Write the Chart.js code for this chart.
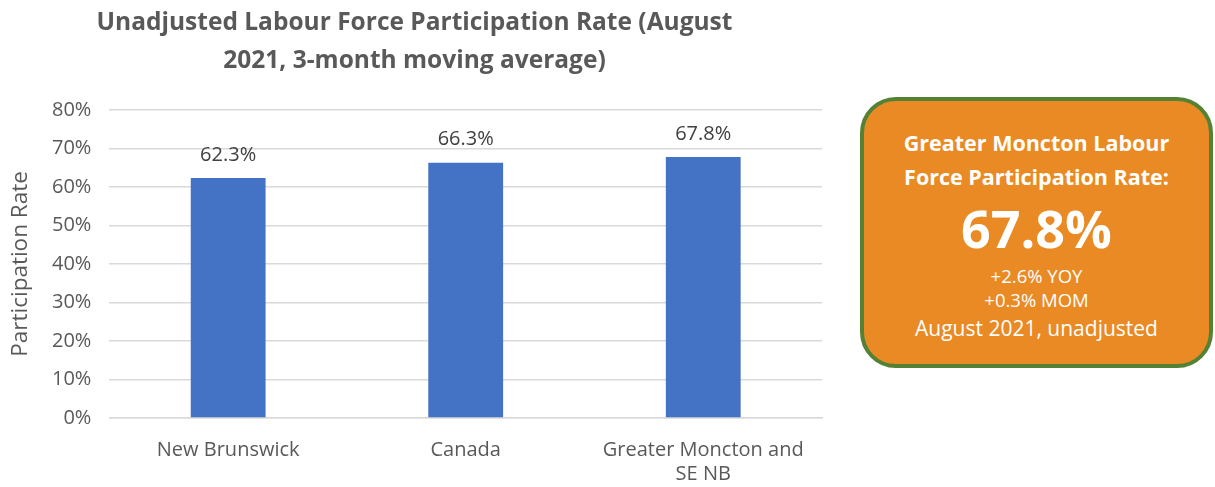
<!DOCTYPE html>
<html>
<head>
<meta charset="utf-8">
<script src="https://cdn.jsdelivr.net/npm/chart.js@4"></script>
<style>
    body { margin: 0; background: #fff; }
    #wrap { position: absolute; left: 0; top: 0; width: 840px; height: 487px; }
    #box {
        position: absolute; left: 860px; top: 97px; width: 345px; height: 263px;
        background: #E98A24; border: 4px solid #548235; border-radius: 36px;
        color: #fff; text-align: center; font-family: 'Open Sans', sans-serif;
    }
    #box .head { margin-top: 25px; font-size: 21.5px; font-weight: bold; line-height: 34px; }
    #box .big { font-size: 52px; font-weight: bold; line-height: 64px; margin-top: 2px; }
    #box .small { font-size: 18.5px; line-height: 24px; margin-top: 4px; }
    #box .last { font-size: 21px; line-height: 28px; margin-top: 2px; }
</style>
</head>
<body>
<div id="wrap"><canvas id="chart"></canvas></div>
<div id="box">
    <div class="head">Greater Moncton Labour<br>Force Participation Rate:</div>
    <div class="big">67.8%</div>
    <div class="small">+2.6% YOY<br>+0.3% MOM</div>
    <div class="last">August 2021, unadjusted</div>
</div>
<script>
// Data
const categories = [['New Brunswick'], ['Canada'], ['Greater Moncton and', 'SE NB']];
const rates = [62.3, 66.3, 67.8];
const yTicks = [0, 10, 20, 30, 40, 50, 60, 70, 80];

const textGrey = '#595959';
const barBlue = '#4472C4';

// value labels above bars
const valueLabels = {
    id: 'valueLabels',
    afterDatasetsDraw(chart) {
        const ctx = chart.ctx;
        const meta = chart.getDatasetMeta(0);
        ctx.save();
        ctx.font = "20px 'Open Sans', sans-serif";
        ctx.fillStyle = '#404040';
        ctx.textAlign = 'center';
        ctx.textBaseline = 'bottom';
        meta.data.forEach((bar, i) => {
            ctx.fillText(rates[i].toFixed(1) + '%', bar.x, bar.y - 13);
        });
        ctx.restore();
    }
};

new Chart(document.getElementById('chart'), {
    type: 'bar',
    data: {
        labels: categories,
        datasets: [{
            data: rates,
            backgroundColor: barBlue,
            categoryPercentage: 1,
            barPercentage: 0.315
        }]
    },
    options: {
        responsive: true,
        maintainAspectRatio: false,
        animation: false,
        layout: { padding: { left: 7, right: 18, top: 4, bottom: -19 } },
        plugins: {
            legend: { display: false },
            tooltip: { enabled: false },
            title: {
                display: true,
                text: ['Unadjusted Labour Force Participation Rate (August', '2021, 3-month moving average)'],
                color: textGrey,
                font: { family: "'Open Sans', sans-serif", size: 24.5, weight: 'bold', lineHeight: 1.55 },
                padding: { top: 0, bottom: 30 }
            }
        },
        scales: {
            y: {
                min: 0,
                max: 80,
                afterBuildTicks: axis => { axis.ticks = yTicks.map(v => ({ value: v })); },
                ticks: {
                    color: textGrey,
                    font: { family: "'Open Sans', sans-serif", size: 20 },
                    padding: 18,
                    callback: v => v + '%'
                },
                grid: { color: '#D9D9D9', lineWidth: 1.5, drawTicks: false },
                border: { display: false },
                title: {
                    display: true,
                    text: 'Participation Rate',
                    color: textGrey,
                    font: { family: "'Open Sans', sans-serif", size: 22.5 },
                    padding: { top: 0, bottom: 0 }
                }
            },
            x: {
                ticks: {
                    color: textGrey,
                    font: { family: "'Open Sans', sans-serif", size: 20, lineHeight: 1.2 },
                    padding: 20,
                    maxRotation: 0
                },
                grid: { display: false, drawTicks: false },
                border: { color: '#D9D9D9', width: 1.5 }
            }
        }
    },
    plugins: [valueLabels]
});
</script>
</body>
</html>
